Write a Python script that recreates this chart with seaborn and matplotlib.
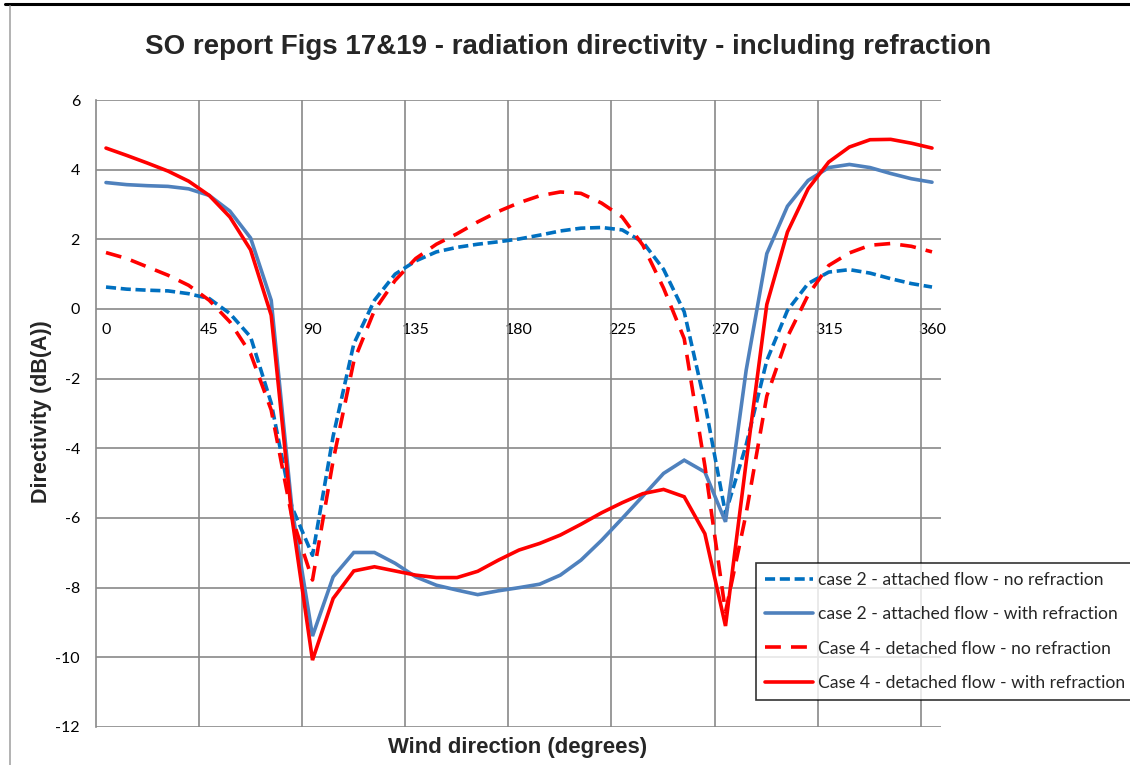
import matplotlib
matplotlib.use("Agg")
import matplotlib.pyplot as plt
from matplotlib.lines import Line2D
import seaborn as sns
import pandas as pd

# ---- data -------------------------------------------------------------
wind_deg = [0, 9, 18, 27, 36, 45, 54, 63, 72, 81, 90, 99, 108, 117, 126, 135,
            144, 153, 162, 171, 180, 189, 198, 207, 216, 225, 234, 243, 252,
            261, 270, 279, 288, 297, 306, 315, 324, 333, 342, 351, 360]

case2_no_refr = [0.63, 0.57, 0.54, 0.52, 0.44, 0.30, -0.13, -0.80, -2.70, -5.68,
                 -7.07, -3.65, -1.00, 0.25, 1.00, 1.38, 1.64, 1.77, 1.86, 1.93,
                 2.01, 2.12, 2.24, 2.32, 2.34, 2.27, 1.92, 1.14, -0.08, -2.70,
                 -5.87, -3.90, -1.48, -0.04, 0.73, 1.06, 1.13, 1.03, 0.87, 0.73,
                 0.63]
case2_with_refr = [3.63, 3.57, 3.54, 3.52, 3.45, 3.26, 2.81, 2.04, 0.25, -5.70,
                   -9.39, -7.69, -6.99, -6.99, -7.30, -7.69, -7.93, -8.07, -8.20,
                   -8.09, -8.00, -7.90, -7.64, -7.21, -6.64, -6.01, -5.37, -4.72,
                   -4.34, -4.68, -6.11, -1.76, 1.59, 2.95, 3.69, 4.06, 4.15, 4.06,
                   3.89, 3.74, 3.64]
case4_no_refr = [1.62, 1.45, 1.21, 0.97, 0.68, 0.25, -0.37, -1.28, -2.90, -5.97,
                 -7.78, -4.35, -1.50, -0.04, 0.82, 1.45, 1.86, 2.16, 2.50, 2.80,
                 3.05, 3.25, 3.36, 3.32, 3.04, 2.64, 1.83, 0.60, -0.85, -4.50,
                 -8.70, -5.87, -2.50, -0.80, 0.40, 1.25, 1.61, 1.83, 1.88, 1.80,
                 1.64]
case4_with_refr = [4.62, 4.41, 4.19, 3.96, 3.67, 3.26, 2.64, 1.70, -0.18, -5.97,
                   -10.08, -8.31, -7.52, -7.40, -7.52, -7.64, -7.71, -7.71, -7.53,
                   -7.21, -6.92, -6.73, -6.49, -6.18, -5.85, -5.56, -5.30, -5.18,
                   -5.39, -6.45, -9.10, -4.40, 0.13, 2.21, 3.45, 4.22, 4.65, 4.86,
                   4.87, 4.76, 4.62]

series_names = ["case 2 - attached flow - no refraction",
                "case 2 - attached flow - with refraction",
                "Case 4 - detached flow - no refraction",
                "Case 4 - detached flow - with refraction"]
series_values = [case2_no_refr, case2_with_refr, case4_no_refr, case4_with_refr]

x_tick_labels = ["0", "45", "90", "135", "180", "225", "270", "315", "360"]
x_tick_pos = [0, 45, 90, 135, 180, 225, 270, 315, 360]
y_ticks = [-12, -10, -8, -6, -4, -2, 0, 2, 4, 6]

title = "SO report Figs 17&19 - radiation directivity - including refraction"
x_label = "Wind direction (degrees)"
y_label = "Directivity (dB(A))"

# ---- long table -------------------------------------------------------
frames = []
for name, vals in zip(series_names, series_values):
    frames.append(pd.DataFrame({"deg": wind_deg, "val": vals, "series": name}))
df = pd.concat(frames, ignore_index=True)

palette = {series_names[0]: "#0070C0", series_names[1]: "#4F81BD",
           series_names[2]: "#FF0000", series_names[3]: "#FF0000"}
dashes = {series_names[0]: (2.8, 1.3), series_names[1]: "",
          series_names[2]: (4.4, 2.8), series_names[3]: ""}

# ---- figure -----------------------------------------------------------
sns.set_style("white")
plt.rcParams["font.family"] = ["Lato", "DejaVu Sans"]
BOLD = ["Liberation Sans", "DejaVu Sans"]

W, H = 1130, 765
fig = plt.figure(figsize=(W / 100, H / 100), dpi=100)
L, R, T, B = 96, 941, 100, 727
ax = fig.add_axes([L / W, 1 - B / H, (R - L) / W, (B - T) / H])

sns.lineplot(data=df, x="deg", y="val", hue="series", style="series",
             hue_order=series_names, style_order=series_names,
             palette=palette, dashes=dashes, linewidth=2.6,
             estimator=None, errorbar=None, sort=False, legend=False, ax=ax)
for ln in ax.lines:
    ln.set_solid_joinstyle("miter")

px_per_deg = (932 - 106) / 360.0
x0 = (L - 106) / px_per_deg
x1 = (R - 106) / px_per_deg
ax.set_xlim(x0, x1)
ax.set_ylim(-12, 6)

grid_c = "#898989"
# vertical gridlines (offset like the Excel category boundaries)
ax.set_xticks([x0 + 44.93 * k for k in range(1, 9)], minor=True)
ax.xaxis.grid(True, which="minor", color=grid_c, lw=1.2)
ax.xaxis.grid(False, which="major")
ax.yaxis.grid(True, color=grid_c, lw=1.2)
ax.set_axisbelow(True)

ax.set_xticks(x_tick_pos)
ax.set_xticklabels(x_tick_labels)
ax.tick_params(axis="x", which="both", length=0, pad=10, labelsize=11.5,
               colors="black")
ax.spines["bottom"].set_position(("data", 0))
ax.spines["bottom"].set_visible(False)
ax.spines["top"].set_visible(False)
ax.spines["right"].set_visible(False)
ax.spines["left"].set_color(grid_c)
ax.spines["left"].set_linewidth(1.2)

ax.set_yticks(y_ticks)
ax.set_yticklabels([str(v) for v in y_ticks])
ax.tick_params(axis="y", length=4.5, width=1.2, color=grid_c, pad=7,
               labelsize=11.5, labelcolor="black")
ax.set_xlabel("")
ax.set_ylabel("")

# titles
fig.text(568 / W, 1 - 47 / H, title, ha="center", va="center",
         fontsize=20, fontweight="bold", family=BOLD)
fig.text(518 / W, 1 - 748 / H, x_label, ha="center", va="center",
         fontsize=15.9, fontweight="bold", family=BOLD)
fig.text(42 / W, 1 - 412 / H, y_label, ha="center", va="center",
         rotation=90, fontsize=15.5, fontweight="bold", family=BOLD)

# legend
handles = [Line2D([], [], color=l.get_color(), lw=2.6) for l in ax.lines[:4]]
for h, l in zip(handles, ax.lines[:4]):
    pat = l._unscaled_dash_pattern[1]
    if pat:
        h.set_dashes(pat)
leg = fig.legend(handles, series_names, loc="upper left",
                 bbox_to_anchor=(756 / W, 1 - 563 / H),
                 frameon=True, fancybox=False, fontsize=12.6,
                 handlelength=2.75, handletextpad=0.3, labelspacing=1.05,
                 borderpad=0.5, borderaxespad=0)
leg.get_frame().set_edgecolor("black")
leg.get_frame().set_linewidth(1.2)

# chart frame lines
fig.add_artist(Line2D([5 / W, 1], [1 - 4 / H, 1 - 4 / H], color="black", lw=2.2))
fig.add_artist(Line2D([10 / W, 10 / W], [0, 1 - 6 / H], color="#A6A6A6", lw=1.2))

fig.savefig("out.png", dpi=100)
